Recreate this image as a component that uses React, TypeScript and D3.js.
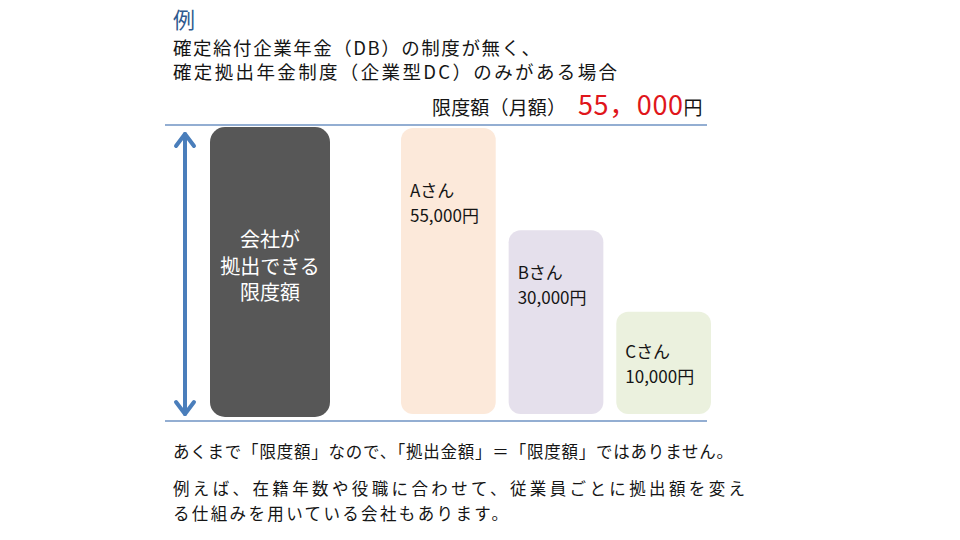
import React from 'react';
import * as d3 from 'd3';

// 限度額と各従業員の拠出額（月額）
const limit = 55000;
const employees = ['A', 'B', 'C'];
const amounts = [55000, 30000, 10000];
const barColors = ['#FCE9DA', '#E5E0EC', '#EBF1DE'];
const titleLines = ['確定給付企業年金（DB）の制度が無く、', '確定拠出年金制度（企業型DC）のみがある場合'];
const noteLines = [
  'あくまで「限度額」なので、「拠出金額」＝「限度額」ではありません。',
  '例えば、在籍年数や役職に合わせて、従業員ごとに拠出額を変え',
  'る仕組みを用いている会社もあります。',
];
const companyLabel = ['会社が', '拠出できる', '限度額'];

const W = 960;
const H = 540;
const font = '"Noto Sans CJK JP", "Noto Sans", sans-serif';
const lineColor = '#6F93C3';
const arrowColor = '#4A7EBB';
const ink = '#151515';

const App: React.FC = () => {
  // illustrative scale: bars are not proportional from zero in the original
  const y = d3.scaleLinear().domain([-15000, limit]).range([414, 128]);
  const x = d3.scaleBand<string>().domain(employees).range([401, 711]).paddingInner(0.12).paddingOuter(0);
  const fmt = d3.format(',');

  const topY = 125;
  const baseY = 421;
  const arrowX = 185;

  // label offset from bar top (A sits lower in its bar)
  const labelOffset = [69, 49, 46];

  return (
    <svg width={W} height={H} style={{ position: 'absolute', left: 0, top: 0, background: '#fff' }} fontFamily={font}>
      <text x={173} y={28} fontSize={22} fill="#2F5A8F">例</text>
      {titleLines.map((t, i) => (
        <text key={t} x={173} y={55 + i * 24} fontSize={18.5} fill={ink}
          textLength={i === 0 ? 367 : 444} lengthAdjust="spacing">{t}</text>
      ))}

      <text x={432} y={115} fontSize={19} fill={ink}>
        <tspan textLength={134} lengthAdjust="spacing">限度額（月額）</tspan>
        <tspan x={578} fontSize={27} fill="#E0161B" textLength={105} lengthAdjust="spacing">55，000</tspan>
        <tspan fontSize={19} fill={ink}>円</tspan>
      </text>

      <line x1={165} x2={707} y1={topY} y2={topY} stroke={lineColor} strokeWidth={1.6} />
      <line x1={165} x2={707} y1={baseY} y2={baseY} stroke={lineColor} strokeWidth={1.6} />

      {/* double arrow */}
      <g stroke={arrowColor} strokeWidth={4} fill="none" strokeLinecap="round" strokeLinejoin="round">
        <line x1={arrowX} x2={arrowX} y1={y(limit) + 6} y2={baseY - 7} />
        <polyline points={`${arrowX - 9},${y(limit) + 18} ${arrowX},${y(limit) + 6} ${arrowX + 9},${y(limit) + 18}`} />
        <polyline points={`${arrowX - 9},${baseY - 19} ${arrowX},${baseY - 7} ${arrowX + 9},${baseY - 19}`} />
      </g>

      {/* company limit bar */}
      <rect x={210} y={y(limit) - 1} width={120} height={baseY - 4 - y(limit) + 1} rx={15} fill="#575757" />
      {companyLabel.map((t, i) => (
        <text key={t} x={270} y={247 + i * 26.5} fontSize={20} fill="#fff" textAnchor="middle">{t}</text>
      ))}

      {employees.map((e, i) => {
        const bx = x(e) as number;
        const top = y(amounts[i]);
        return (
          <g key={e}>
            <rect x={bx} y={top} width={x.bandwidth()} height={414 - top} rx={12} fill={barColors[i]} />
            <text x={bx + 9} y={top + labelOffset[i]} fontSize={17} fill={ink}>{e}さん</text>
            <text x={bx + 9} y={top + labelOffset[i] + 25} fontSize={17} fill={ink}>{fmt(amounts[i])}円</text>
          </g>
        );
      })}

      {noteLines.map((t, i) => (
        <text key={t} x={173} y={i === 0 ? 458 : 495 + (i - 1) * 25} fontSize={16.5} fill={ink}
          textLength={i === 0 ? 560 : i === 1 ? 572 : 335} lengthAdjust="spacing">{t}</text>
      ))}
    </svg>
  );
};

export default App;
